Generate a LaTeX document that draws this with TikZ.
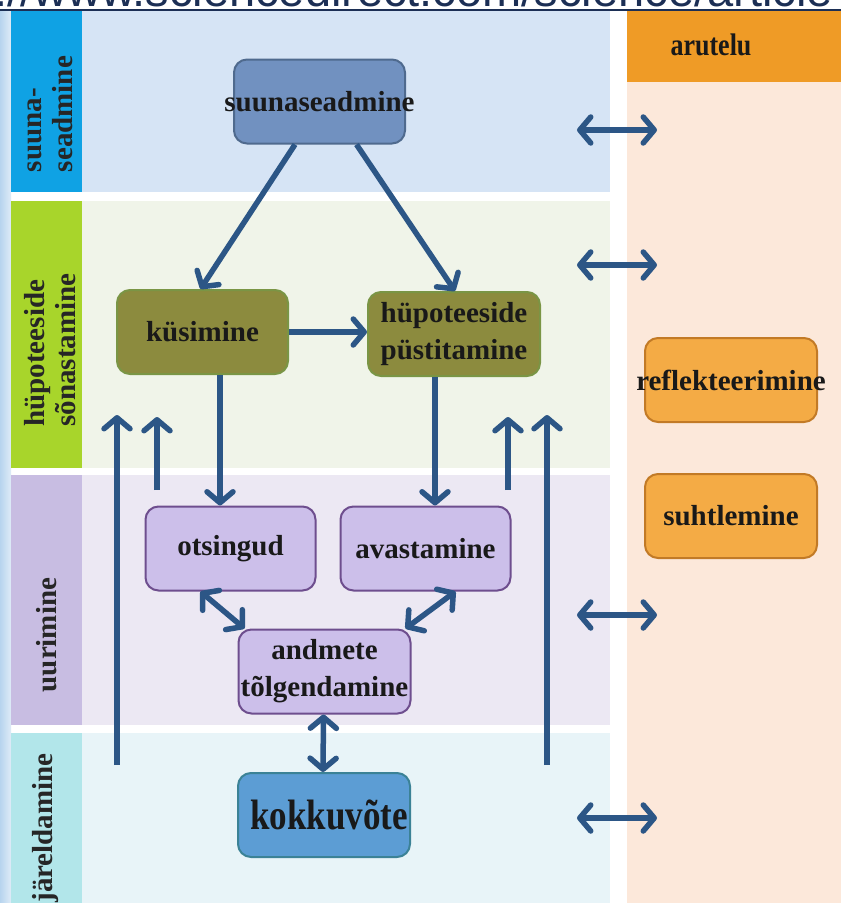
\documentclass[tikz,border=0pt]{standalone}
\usepackage{fontspec}
\usepackage{graphicx}
\usetikzlibrary{arrows.meta, positioning}
\setmainfont{Liberation Serif}
\newfontfamily\urlfont{Liberation Sans}

\definecolor{flowblue}{HTML}{2C5686}
\definecolor{edgeblue}{HTML}{B7D4EE}
\definecolor{urlnavy}{HTML}{1C2F55}
\definecolor{laneA}{HTML}{D6E4F5}
\definecolor{laneB}{HTML}{F0F4E9}
\definecolor{laneC}{HTML}{ECE8F3}
\definecolor{laneD}{HTML}{E8F4F8}
\definecolor{tagA}{HTML}{0FA2E4}
\definecolor{tagB}{HTML}{A8D52B}
\definecolor{tagC}{HTML}{C8BDE2}
\definecolor{tagD}{HTML}{B2E6EA}
\definecolor{peach}{HTML}{FCE8DA}
\definecolor{aruorange}{HTML}{EF9B26}
\definecolor{suunafill}{HTML}{7191C0}
\definecolor{suunaline}{HTML}{4F6A8E}
\definecolor{olivefill}{HTML}{8C8B3E}
\definecolor{oliveline}{HTML}{7A9545}
\definecolor{lavfill}{HTML}{CCBFEA}
\definecolor{lavline}{HTML}{6E4E8E}
\definecolor{orfill}{HTML}{F4AB45}
\definecolor{orline}{HTML}{C27A26}
\definecolor{kokkufill}{HTML}{5C9DD4}
\definecolor{kokkuline}{HTML}{3B8296}

\tikzset{
	boxtext/.style={font=\fontsize{29}{37}\selectfont\bfseries, text=black!90}
}
\tikzset{
	stepbox/.style={draw, line width=2pt, rounded corners=13pt, minimum width=171pt,
		minimum height=84pt, inner sep=0pt, align=center, boxtext},
	lanelabel/.style={rotate=90, align=left, inner sep=0pt,
		font=\fontsize{29}{31}\selectfont\bfseries, text=black!85}
}
\tikzset{
	barb/.tip={Straight Barb[length=11pt,width=26pt,line width=5.5pt,round]},
	flow/.style={draw=flowblue, line width=5.5pt, -barb},
	twoway/.style={draw=flowblue, line width=5.5pt, barb-barb}
}
\newcommand{\wide}[1]{\makebox[0pt]{#1}}

\begin{document}
\begin{tikzpicture}[x=1pt, y=-1pt]
      \useasboundingbox (0,0) rectangle (841,903);
      \fill[white] (0,0) rectangle (841,903);

      % cut-off link at the top edge
      \begin{scope}
        \clip (0,0) rectangle (841,9);
        \node[anchor=base west, inner sep=0pt, text=urlnavy,
              font=\urlfont\fontsize{47}{50}\selectfont] (url) at (-6,6) {://www.sciencedirect.com/science/article};
      \end{scope}
      \draw[urlnavy, line width=1.6pt] (0,10) -- (841,10);

      \shade[left color=edgeblue, right color=edgeblue!45] (0,11) rectangle (11,903);

      % lanes
      \fill[laneA] (82,11) rectangle (610,192);
      \fill[laneB] (82,201) rectangle (610,468);
      \fill[laneC] (82,475) rectangle (610,725);
      \fill[laneD] (82,733) rectangle (610,903);
      \fill[tagA] (11,11) rectangle (82,192);
      \fill[tagB] (11,201) rectangle (82,468);
      \fill[tagC] (11,475) rectangle (82,725);
      \fill[tagD] (11,733) rectangle (82,903);
      \fill[peach] (627,11) rectangle (841,903);
      \fill[aruorange] (627,11) rectangle (841,82);

      \node[lanelabel] (tag1) at (50,114) {suuna-\\seadmine};
      \node[lanelabel] (tag2) at (50,350) {hüpoteeside\\sõnastamine};
      \node[lanelabel] (tag3) at (47,635) {uurimine};
      \node[lanelabel] (tag4) at (46,828) {järeldamine};
      \node[boxtext, font=\fontsize{26}{28}\selectfont\bfseries] (arutelu) at (711,45) {\scalebox{1}[1.2]{arutelu}};

      \node[stepbox, fill=suunafill, draw=suunaline] (suuna) at (319.5,101.5) {\wide{suunaseadmine}};
      \node[stepbox, fill=olivefill, draw=oliveline] (kys) at (202.5,332) {küsimine};
      \node[stepbox, fill=olivefill, draw=oliveline, minimum width=172pt] (hyp) at (454,334) {hüpoteeside\\püstitamine};
      \node[stepbox, fill=lavfill, draw=lavline, minimum width=170pt] (ots) at (230.5,548.5) {otsingud};
      \node[stepbox, fill=lavfill, draw=lavline, minimum width=170pt] (ava) at (425.5,548.5) {avastamine};
      \node[stepbox, fill=lavfill, draw=lavline, minimum width=172pt] (andm) at (324.5,671.5) {andmete\\\wide{tõlgendamine}};
      \node[stepbox, fill=kokkufill, draw=kokkuline, minimum width=172pt] (kokku) at (324,815) {\wide{\hspace{10pt}\fontsize{34}{36}\selectfont\scalebox{1.03}[1.25]{kokkuvõte}}};
      \node[stepbox, fill=orfill, draw=orline, minimum width=172pt] (refl) at (731,380) {\wide{reflekteerimine}};
      \node[stepbox, fill=orfill, draw=orline, minimum width=172pt] (suht) at (731,516) {suhtlemine};

      \draw[flow] ([xshift=-24.5pt]suuna.south) -- ([xshift=-2pt]kys.north);
      \draw[flow] ([xshift=37pt]suuna.south) -- ([xshift=1pt]hyp.north);
      \draw[flow] (kys.east) -- (hyp.west |- kys.east);
      \draw[flow] ([xshift=17.5pt]kys.south) -- ([xshift=17.5pt]kys.south |- ots.north);
      \draw[flow] ([xshift=-19pt]hyp.south) -- ([xshift=-19pt]hyp.south |- ava.north);
      \draw[twoway] ([xshift=-30pt]ots.south) -- ([xshift=-80pt]andm.north);
      \draw[twoway] ([xshift=30pt]ava.south) -- ([xshift=81pt]andm.north);
      \draw[twoway] ([xshift=-1pt]andm.south) -- ([xshift=-1pt]kokku.north);

      % feedback arrows back up into the hypothesis lane
      \coordinate (up1s) at (117,765);  \coordinate (up1e) at (117,415);
      \coordinate (up2s) at (157,490);  \coordinate (up2e) at (157,417);
      \coordinate (up3s) at (508,490);  \coordinate (up3e) at (508,417);
      \coordinate (up4s) at (547,765);  \coordinate (up4e) at (547,415);
      \draw[flow] (up1s) -- (up1e);
      \draw[flow] (up2s) -- (up2e);
      \draw[flow] (up3s) -- (up3e);
      \draw[flow] (up4s) -- (up4e);

      % links to the discussion column
      \foreach \i/\y in {1/130, 2/265, 3/615, 4/818} {
        \coordinate (ru\i) at (577,\y);
        \coordinate (rv\i) at (657,\y);
        \draw[twoway] (ru\i) -- (rv\i);
      }
    \end{tikzpicture}
\end{document}
